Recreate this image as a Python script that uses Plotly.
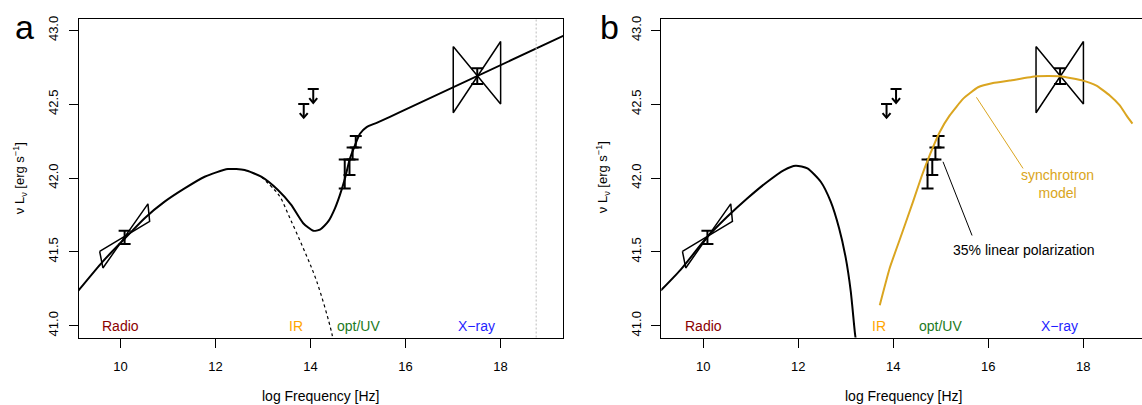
import plotly.graph_objects as go

# ---------------- data ----------------
# panel a: total model (log nu, log nuLnu)
model_a_x = [9.103, 9.629, 10.086, 10.507, 10.928, 11.349, 11.771, 12.261, 12.613, 12.962,
             13.314, 13.594, 13.846, 14.057, 14.198, 14.373, 14.514, 14.619, 14.724, 14.829,
             14.935, 15.040, 15.181, 15.392, 15.882, 19.320]
model_a_y = [41.234, 41.436, 41.589, 41.728, 41.840, 41.930, 42.009, 42.061, 42.054, 42.009,
             41.919, 41.818, 41.694, 41.643, 41.650, 41.706, 41.795, 41.886, 41.997, 42.132,
             42.222, 42.300, 42.345, 42.374, 42.446, 42.963]
# panel a: low-energy component continued (dashed)
comp_a_x = [12.962, 13.244, 13.356, 13.566, 13.846, 14.128, 14.444, 14.493]
comp_a_y = [42.009, 41.919, 41.874, 41.728, 41.526, 41.302, 40.954, 40.865]
# panel b: low-energy component
model_b_x = [9.103, 9.524, 10.051, 10.507, 10.928, 11.349, 11.699, 11.945, 12.192, 12.472,
             12.682, 12.857, 12.998, 13.103, 13.194, 13.229]
model_b_y = [41.238, 41.380, 41.589, 41.739, 41.863, 41.975, 42.054, 42.083, 42.065, 41.975,
             41.840, 41.661, 41.459, 41.234, 40.943, 40.864]
# panel b: synchrotron model
sync_x = [13.714, 13.924, 14.171, 14.415, 14.592, 14.766, 14.977, 15.187, 15.467, 15.783,
          16.099, 16.451, 17.013, 17.503, 17.994, 18.276, 18.556, 18.767, 18.907, 19.034]
sync_y = [41.139, 41.391, 41.616, 41.840, 42.009, 42.155, 42.312, 42.424, 42.536, 42.615,
          42.644, 42.660, 42.689, 42.689, 42.660, 42.626, 42.559, 42.492, 42.424, 42.368]

# measurements with error ranges
meas_x = [10.086, 14.952, 14.886, 14.820, 14.720, 17.510]
meas_lo = [41.553, 42.206, 42.125, 42.020, 41.930, 42.637]
meas_hi = [41.643, 42.285, 42.206, 42.125, 42.125, 42.743]

# upper limits
ul_x = [13.857, 14.057]
ul_y = [42.502, 42.603]

# bowties (spectral slope ranges)
radio_bt_x = [9.560, 10.613, 10.577, 9.629, 9.560]
radio_bt_y = [41.504, 41.706, 41.825, 41.391, 41.504]
xray_bt_x = [17.004, 18.002, 18.002, 17.004, 17.004]
xray_bt_y = [42.891, 42.502, 42.925, 42.442, 42.891]

xray_limit = 18.75

band_names = ["Radio", "IR", "opt/UV", "X\u2212ray"]
band_x = [10.0, 13.7, 15.0, 17.5]
band_y = 41.0
band_colors = ["#8B0000", "#FFA500", "#1C7A1C", "#1F1FFF"]

sync_label = ("synchrotron<br>model", 17.45, 41.958)
sync_ptr_x = [15.749, 16.731]
sync_ptr_y = [42.547, 42.065]
pol_label = ("35% linear polarization", 16.752, 41.515)
pol_ptr_x = [15.046, 15.657]
pol_ptr_y = [42.110, 41.611]

x_ticks = [10, 12, 14, 16, 18]
y_ticks = [41.0, 41.5, 42.0, 42.5, 43.0]

# ---------------- figure ----------------
W, H = 1142, 405
FONT = "Liberation Sans, Arial, sans-serif"
X_RANGE_A = [9.115, 19.315]
X_RANGE_B = [9.115, 9.115 + (W - 661.3) / 47.5]
Y_RANGE = [40.92, 43.08]
FS = 14      # label text size
FT = 13      # tick label size

fig = go.Figure()

def add_panel(xa, ya, panel_b):
    # measurements
    mid = [(lo + hi) / 2 for lo, hi in zip(meas_lo, meas_hi)]
    err = [(hi - lo) / 2 for lo, hi in zip(meas_lo, meas_hi)]
    fig.add_trace(go.Scatter(x=meas_x, y=mid, mode="markers", marker=dict(size=1, color="black"),
                             error_y=dict(type="data", array=err, visible=True, color="black",
                                          thickness=2, width=6),
                             xaxis=xa, yaxis=ya, showlegend=False, hoverinfo="skip"))
    # bowties
    for bx, by in [(radio_bt_x, radio_bt_y), (xray_bt_x, xray_bt_y)]:
        fig.add_trace(go.Scatter(x=bx, y=by, mode="lines", line=dict(color="black", width=1.5),
                                 xaxis=xa, yaxis=ya, showlegend=False, hoverinfo="skip"))
    # upper limits: cap + stem + open head
    ax, ay = [], []
    stem, cap_w, head_w, head_h = 0.094, 0.116, 0.084, 0.032
    for x, y in zip(ul_x, ul_y):
        ax += [x - cap_w, x + cap_w, None, x, x, None, x - head_w, x, x + head_w, None]
        ay += [y, y, None, y, y - stem, None, y - stem + head_h, y - stem, y - stem + head_h, None]
    fig.add_trace(go.Scatter(x=ax, y=ay, mode="lines", line=dict(color="black", width=2),
                             xaxis=xa, yaxis=ya, showlegend=False, hoverinfo="skip"))
    if not panel_b:
        fig.add_trace(go.Scatter(x=comp_a_x, y=comp_a_y, mode="lines",
                                 line=dict(color="black", width=1.2, dash="3px,3px", shape="spline"),
                                 xaxis=xa, yaxis=ya, showlegend=False, hoverinfo="skip"))
        fig.add_trace(go.Scatter(x=model_a_x, y=model_a_y, mode="lines",
                                 line=dict(color="black", width=2, shape="spline", smoothing=0.6),
                                 xaxis=xa, yaxis=ya, showlegend=False, hoverinfo="skip"))
    else:
        fig.add_trace(go.Scatter(x=model_b_x, y=model_b_y, mode="lines",
                                 line=dict(color="black", width=2, shape="spline", smoothing=0.6),
                                 xaxis=xa, yaxis=ya, showlegend=False, hoverinfo="skip"))
        fig.add_trace(go.Scatter(x=sync_x, y=sync_y, mode="lines",
                                 line=dict(color="#DAA520", width=2, shape="spline", smoothing=0.4),
                                 xaxis=xa, yaxis=ya, showlegend=False, hoverinfo="skip"))
        fig.add_trace(go.Scatter(x=sync_ptr_x, y=sync_ptr_y, mode="lines",
                                 line=dict(color="#DAA520", width=1),
                                 xaxis=xa, yaxis=ya, showlegend=False, hoverinfo="skip"))
        fig.add_trace(go.Scatter(x=pol_ptr_x, y=pol_ptr_y, mode="lines",
                                 line=dict(color="black", width=1),
                                 xaxis=xa, yaxis=ya, showlegend=False, hoverinfo="skip"))

add_panel("x", "y", False)
add_panel("x2", "y2", True)

# dotted X-ray line in panel a
fig.add_shape(type="line", xref="x", yref="y domain", x0=xray_limit, x1=xray_limit, y0=0, y1=1,
              line=dict(color="#BBBBBB", width=1, dash="2px,2px"))

y_dom = [(H - 337) / H, (H - 15.7) / H]
axis_common = dict(showgrid=False, zeroline=False, linecolor="black", linewidth=1,
                   ticks="outside", ticklen=9, tickcolor="black", tickwidth=1,
                   tickfont=dict(size=FT, family=FONT, color="black"))
fig.update_layout(
    width=W, height=H, margin=dict(l=0, r=0, t=0, b=0),
    paper_bgcolor="white", plot_bgcolor="white",
    font=dict(family=FONT, size=FS, color="black"),
    xaxis=dict(domain=[78.5 / W, 563 / W], range=X_RANGE_A, tickvals=x_ticks,
               showline=True, mirror=True, anchor="y", ticklabelstandoff=8, **axis_common),
    yaxis=dict(domain=y_dom, range=Y_RANGE, tickvals=y_ticks, tickformat=".1f", tickangle=-90,
               showline=True, mirror=True, anchor="x", ticklabelstandoff=5, **axis_common),
    xaxis2=dict(domain=[661.3 / W, 1.0], range=X_RANGE_B, tickvals=x_ticks,
                showline=True, mirror=True, anchor="y2", ticklabelstandoff=8, **axis_common),
    yaxis2=dict(domain=y_dom, range=Y_RANGE, tickvals=y_ticks, tickformat=".1f", tickangle=-90,
                showline=True, mirror=False, anchor="x2", ticklabelstandoff=5, **axis_common),
)

ann = []
# band labels in both panels
for xr, yr in [("x", "y"), ("x2", "y2")]:
    for name, bx, col in zip(band_names, band_x, band_colors):
        ann.append(dict(text=name, x=bx, y=band_y, xref=xr, yref=yr, showarrow=False,
                        xanchor="center", yanchor="middle",
                        font=dict(size=FS, family=FONT, color=col)))
ytitle = "\u03bd L<sub>\u03bd</sub> [erg s<sup>\u22121</sup>]"
for xc in [19.5, 602.5]:
    ann.append(dict(text=ytitle, x=xc / W, y=(H - 176) / H, xref="paper", yref="paper",
                    showarrow=False, textangle=-90, xanchor="center", yanchor="middle",
                    font=dict(size=13, family=FONT)))
for xc in [321, 904.5]:
    ann.append(dict(text="log Frequency [Hz]", x=xc / W, y=(H - 396) / H, xref="paper", yref="paper",
                    showarrow=False, xanchor="center", yanchor="middle", font=dict(size=FS, family=FONT)))
for lab, xc in [("a", 24), ("b", 609)]:
    ann.append(dict(text=lab, x=xc / W, y=(H - 24) / H, xref="paper", yref="paper",
                    showarrow=False, xanchor="center", yanchor="middle", font=dict(size=34, family=FONT)))
ann.append(dict(text=sync_label[0], x=sync_label[1], y=sync_label[2], xref="x2", yref="y2",
                showarrow=False, font=dict(size=FS, family=FONT, color="#DAA520")))
ann.append(dict(text=pol_label[0], x=pol_label[1], y=pol_label[2], xref="x2", yref="y2",
                showarrow=False, font=dict(size=FS, family=FONT, color="black")))
fig.update_layout(annotations=ann)

fig.write_html("out.html", config={"displayModeBar": False},
               post_script="document.body.style.margin='0';document.body.style.overflow='hidden';")
